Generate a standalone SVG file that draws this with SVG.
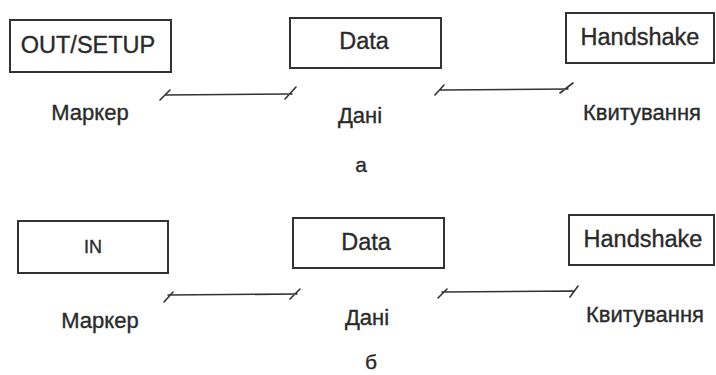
<svg xmlns="http://www.w3.org/2000/svg" width="716" height="375" viewBox="0 0 716 375">
<style>
.box{fill:#fff;stroke:#333;stroke-width:2}
.t{font-family:"Liberation Sans",Arial,sans-serif;fill:#2a2a2a;stroke:#2a2a2a;stroke-width:0.35;text-anchor:middle}
.bl{font-size:23.5px}
.lb{font-size:22px}
.c{fill:none;stroke:#333;stroke-width:1.6;stroke-linecap:round}
</style>
<rect width="716" height="375" fill="#fff"/>
<g id="a-marker-box"><rect class="box" x="10" y="20" width="161" height="52"/><text class="t bl" x="88" y="53">OUT/SETUP</text></g>
<g id="a-data-box"><rect class="box" x="290" y="18" width="151" height="50"/><text class="t bl" x="364" y="49">Data</text></g>
<g id="a-handshake-box"><rect class="box" x="566" y="13" width="148" height="50"/><text class="t bl" x="640" y="45">Handshake</text></g>
<g id="a-marker-label"><text class="t lb" x="90" y="120">Маркер</text></g>
<g id="a-data-label"><text class="t lb" x="360" y="123">Дані</text></g>
<g id="a-handshake-label"><text class="t lb" x="642" y="120">Квитування</text></g>
<g id="a-caption"><text class="t" font-size="21" x="361" y="172">а</text></g>
<g id="b-marker-box"><rect class="box" x="18" y="221" width="150" height="52"/><text class="t" font-size="18" x="93" y="253">IN</text></g>
<g id="b-data-box"><rect class="box" x="293" y="218" width="151" height="50"/><text class="t bl" x="366" y="250">Data</text></g>
<g id="b-handshake-box"><rect class="box" x="569" y="215" width="145" height="50"/><text class="t bl" x="643" y="247">Handshake</text></g>
<g id="b-marker-label"><text class="t lb" x="100" y="328">Маркер</text></g>
<g id="b-data-label"><text class="t lb" x="367" y="325">Дані</text></g>
<g id="b-handshake-label"><text class="t lb" x="645" y="322">Квитування</text></g>
<g id="b-caption"><text class="t" font-size="21" x="371" y="369">б</text></g>
<g id="connectors">
<path class="c" d="M165,95 L292,94 M160,100 L170,90 M285,99 L296,87"/>
<path class="c" d="M440,90 L568,89 M435,95 L444,85 M560,93 L573,83"/>
<path class="c" d="M168,295 L297,294 M164,302 L173,292 M290,299 L300,289"/>
<path class="c" d="M442,292 L573,291 M438,298 L447,289 M570,297 L578,286"/>
</g>
</svg>
